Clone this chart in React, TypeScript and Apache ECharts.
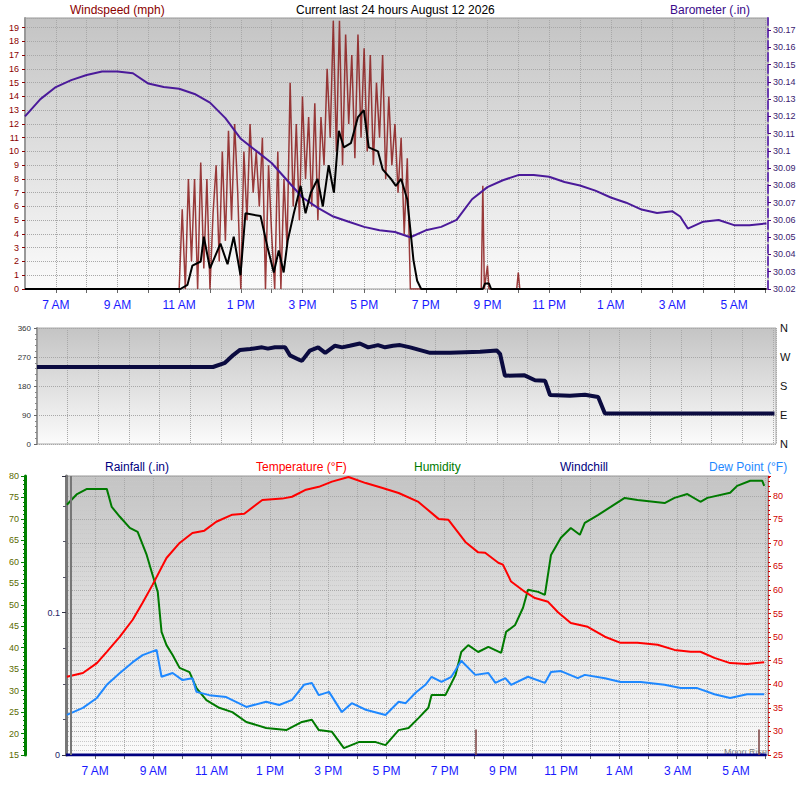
import React, { useEffect, useRef } from "react";
import * as echarts from "echarts";

// hours since midnight of the first day (6 = 6 AM, 30 = 6 AM next day)
const baroHours = [6, 6.5, 7, 7.5, 8, 8.5, 9, 9.5, 10, 10.5, 11, 11.5, 12, 12.5, 13, 13.5, 14, 14.5, 15, 15.5, 16, 16.5, 17, 17.5, 18, 18.5, 19, 19.5, 20, 20.5, 21, 21.5, 22, 22.5, 23, 23.5, 24, 24.5, 25, 25.5, 26, 26.5, 27, 27.25, 27.5, 28, 28.5, 29, 29.5, 30.05];
const baroValues = [30.12, 30.13, 30.137, 30.141, 30.144, 30.146, 30.146, 30.145, 30.139, 30.137, 30.136, 30.133, 30.128, 30.119, 30.107, 30.1, 30.093, 30.083, 30.073, 30.067, 30.062, 30.059, 30.056, 30.054, 30.053, 30.05, 30.054, 30.056, 30.06, 30.072, 30.079, 30.083, 30.086, 30.086, 30.085, 30.082, 30.08, 30.077, 30.073, 30.07, 30.066, 30.064, 30.065, 30.062, 30.055, 30.059, 30.06, 30.057, 30.057, 30.058];

const windHours = [6, 11.04, 11.27, 11.43, 11.7, 11.8, 12.0, 12.34, 12.57, 12.77, 12.99, 13.15, 13.64, 13.87, 14.07, 14.23, 14.39, 14.52, 14.72, 14.94, 15.1, 15.27, 15.49, 15.66, 15.85, 16.02, 16.18, 16.34, 16.57, 16.8, 16.99, 17.15, 17.45, 17.6, 17.87, 18.03, 18.2, 18.4, 18.5, 18.6, 18.72, 18.85, 20.85, 20.92, 21.05, 21.12, 30.05];
const windValues = [0, 0, 0.3, 1.7, 2, 3.8, 1.5, 3.3, 1.8, 3.8, 1.0, 5.5, 5.3, 3.0, 1.2, 2.8, 1.2, 3.5, 5.5, 7.5, 5.5, 7.0, 8.0, 6.0, 9.0, 7.0, 11.5, 10.3, 10.6, 12.5, 13.0, 10.3, 10.0, 8.7, 8.0, 7.5, 8.0, 6.5, 4.3, 2.1, 0.6, 0, 0, 0.4, 0.4, 0, 0];

const gustStart = 11.0;
const gustStep = 0.1;
const gustValues = [0, 5.8, 0, 8, 2, 8, 0, 9.2, 1.5, 8, 0, 5.5, 9, 2, 10, 3.5, 11.5, 5, 12, 7, 0, 10, 5, 12, 7, 10, 6, 11, 0, 9, 4, 0, 10, 0, 8, 3, 15, 6, 12, 5, 14, 8, 12.5, 6, 13.5, 5, 12.5, 9, 16, 11, 19.5, 10, 19.5, 9, 18.5, 12, 17, 9.5, 18.5, 11, 17.5, 10, 17, 9, 15, 11, 17, 8, 14, 9, 12, 7, 11, 4, 9.5, 0];
const gustExtra: [number, number][] = [[6, 0], [10.95, 0], [18.6, 0], [20.8, 0], [20.85, 7.5], [20.9, 0], [21.0, 1.7], [21.05, 0], [21.95, 0], [22.0, 1.2], [22.05, 0], [30.05, 0]];

const dirHours = [6, 11.74, 12.13, 12.4, 12.62, 12.95, 13.34, 13.53, 13.76, 14.09, 14.25, 14.58, 14.64, 14.9, 15.17, 15.4, 15.72, 15.95, 16.2, 16.53, 16.8, 17.12, 17.35, 17.61, 17.84, 18.17, 18.82, 19.47, 20.45, 21.0, 21.1, 21.26, 21.9, 22.24, 22.57, 22.73, 23.38, 23.87, 24.3, 24.52, 30.05];
const dirValues = [239, 239, 252, 276, 292, 295, 300, 296, 300, 300, 275, 260, 258, 290, 300, 283, 305, 300, 305, 312, 300, 307, 300, 305, 307, 300, 283, 283, 286, 290, 280, 212, 213, 198, 196, 152, 150, 153, 146, 95, 95];

const tempHours = [6.03, 6.58, 7.06, 7.4, 7.85, 8.29, 8.63, 8.97, 9.45, 9.9, 10.34, 10.75, 11.16, 11.71, 12.12, 12.74, 13.42, 13.76, 14.24, 14.68, 15.13, 15.7, 16.29, 16.84, 17.42, 18.1, 18.79, 19.13, 19.71, 20.15, 20.39, 20.84, 21.0, 21.28, 21.76, 22.1, 22.55, 22.89, 23.33, 23.91, 24.5, 25.04, 25.62, 26.31, 26.89, 27.44, 27.78, 28.26, 28.8, 29.38, 29.97];
const tempValues = [41.6, 42.4, 44.5, 46.9, 50.1, 53.7, 57.3, 61.1, 66.8, 70.0, 72.1, 72.6, 74.5, 76.0, 76.2, 79.1, 79.4, 79.8, 81.3, 81.9, 83.0, 84.0, 82.7, 81.7, 80.6, 78.7, 75.1, 74.9, 70.2, 68.0, 67.9, 65.8, 65.4, 61.8, 59.6, 58.3, 57.5, 55.3, 53.0, 52.2, 50.1, 48.8, 48.8, 48.4, 47.3, 46.9, 46.9, 45.6, 44.5, 44.3, 44.7];

const humHours = [6.03, 6.38, 6.72, 7.4, 7.57, 7.85, 8.19, 8.46, 8.77, 8.97, 9.15, 9.28, 9.45, 9.66, 9.9, 10.24, 10.48, 10.82, 11.26, 11.71, 12.19, 12.87, 13.56, 14.1, 14.44, 14.68, 15.13, 15.54, 16.05, 16.63, 16.97, 17.42, 17.76, 18.1, 18.44, 18.55, 19.03, 19.37, 19.57, 19.81, 20.15, 20.5, 20.94, 21.11, 21.42, 21.69, 21.86, 22.21, 22.44, 22.65, 22.99, 23.33, 23.64, 23.81, 24.26, 24.7, 25.18, 25.62, 26.55, 26.89, 27.33, 27.78, 28.02, 28.8, 29.04, 29.49, 29.9, 29.97];
const humValues = [73.3, 75.8, 77.0, 77.0, 72.8, 70.5, 67.9, 67.0, 61.6, 57.0, 53.0, 43.7, 40.6, 38.3, 35.3, 34.3, 30.6, 27.8, 26.0, 25.0, 22.7, 21.3, 20.8, 22.7, 23.2, 20.8, 20.4, 16.6, 18.0, 18.0, 17.3, 20.8, 21.3, 23.6, 26.0, 29.0, 29.0, 33.6, 39.0, 40.6, 39.0, 40.2, 38.8, 43.7, 45.3, 49.3, 53.5, 53.0, 52.3, 61.6, 65.6, 67.9, 66.3, 69.1, 70.9, 72.8, 74.9, 74.4, 73.7, 74.9, 75.8, 74.0, 74.9, 76.1, 77.7, 78.9, 78.9, 77.7];

const dewHours = [6.03, 6.58, 7.06, 7.4, 7.85, 8.29, 8.63, 9.11, 9.28, 9.66, 10.0, 10.34, 10.48, 10.92, 11.5, 12.19, 12.87, 13.32, 13.76, 14.17, 14.44, 14.68, 15.03, 15.47, 15.81, 16.29, 16.97, 17.42, 17.66, 18.0, 18.34, 18.55, 18.89, 19.23, 19.57, 20.05, 20.5, 20.74, 21.08, 21.28, 21.86, 22.44, 22.65, 22.99, 23.57, 23.81, 24.5, 25.04, 25.73, 26.55, 27.1, 27.67, 28.26, 28.8, 29.38, 29.97];
const dewValues = [33.5, 35.0, 37.1, 39.9, 42.4, 44.7, 46.2, 47.3, 41.6, 42.4, 40.9, 41.3, 38.4, 37.7, 37.3, 35.2, 36.3, 35.6, 36.7, 39.9, 40.3, 37.7, 38.4, 34.1, 36.0, 34.6, 33.5, 36.3, 36.0, 38.2, 39.9, 41.6, 40.5, 41.6, 45.0, 42.0, 42.4, 40.3, 41.3, 39.9, 41.6, 40.3, 42.6, 42.8, 41.3, 42.0, 41.3, 40.5, 40.5, 39.9, 39.2, 39.2, 37.9, 37.1, 37.9, 37.9];

const rainHours = [6.0, 30.05];
const rainValues = [0, 0];
const eventHours = [20.05, 29.77];

const compass = ["N", "E", "S", "W", "N"];

const pair = (xs: number[], ys: number[]) => xs.map((x, i) => [x, ys[i]]);

const hourLabel = (v: number) => {
  const r = Math.round(v);
  if (Math.abs(v - r) > 0.01 || r % 2 !== 1) return "";
  const h = r % 24;
  const h12 = h % 12 === 0 ? 12 : h % 12;
  return h12 + (h < 12 ? " AM" : " PM");
};

const plotBg = new echarts.graphic.LinearGradient(0, 0, 0, 1, [
  { offset: 0, color: "#c4c4c4" },
  { offset: 1, color: "#fbfbfb" },
]);

const font = "Liberation Sans, Arial, sans-serif";
const dotted = { show: true, lineStyle: { color: "#a8a8a8", type: "dotted" as const, width: 1 } };

const App = () => {
  const chartRef = useRef<HTMLDivElement>(null);

  useEffect(() => {
    if (!chartRef.current) return;
    const chart = echarts.init(chartRef.current, null, { renderer: "svg" });

    const gustData = [
      ...gustExtra.slice(0, 2),
      ...gustValues.map((v, i) => [gustStart + i * gustStep, v]),
      ...gustExtra.slice(2),
    ];

    const xBase = (gi: number, labels: boolean) => ({
      type: "value",
      gridIndex: gi,
      min: 6,
      max: 30.1,
      interval: 1,
      axisLine: { show: false },
      axisTick: { show: labels, length: 4, lineStyle: { color: "#666" } },
      axisLabel: {
        show: labels,
        formatter: hourLabel,
        color: "#1a1aff",
        fontSize: 12,
        fontFamily: font,
        margin: 10,
        showMaxLabel: false,
        showMinLabel: false,
      },
      splitLine: dotted,
    });

    const option = {
      animation: false,
      backgroundColor: "#ffffff",
      textStyle: { fontFamily: font },
      grid: [
        { left: 25, right: 32, top: 18, height: 271, show: true, backgroundColor: plotBg, borderColor: "#999" },
        { left: 37, right: 24, top: 328, height: 116, show: true, backgroundColor: plotBg, borderColor: "#aaa" },
        { left: 66, right: 32, top: 476, height: 279, show: true, backgroundColor: plotBg, borderColor: "#999" },
      ],
      xAxis: [xBase(0, true), xBase(1, false), xBase(2, true)],
      yAxis: [
        {
          type: "value", gridIndex: 0, position: "left", min: 0, max: 19.7, interval: 1,
          axisLine: { show: true, lineStyle: { color: "#999", width: 2 } },
          axisTick: { show: true, length: 3, lineStyle: { color: "#8b0000" } },
          axisLabel: { color: "#8b0000", fontSize: 9, margin: 6, showMaxLabel: false },
          splitLine: dotted,
        },
        {
          type: "value", gridIndex: 0, position: "right", min: 30.02, max: 30.177, interval: 0.01,
          axisLine: { show: true, lineStyle: { color: "#6a3cb0", width: 2, type: "dashed" } },
          axisTick: { show: true, length: 3, lineStyle: { color: "#4b0082" } },
          axisLabel: {
            color: "#3a1a70", fontSize: 9, margin: 5, showMaxLabel: false,
            formatter: (v: number) => String(parseFloat(v.toFixed(2))),
          },
          splitLine: { show: false },
        },
        {
          type: "value", gridIndex: 1, position: "left", min: 0, max: 360, interval: 90,
          axisLine: { show: true, lineStyle: { color: "#999", width: 2 } },
          axisTick: { show: true, length: 3, lineStyle: { color: "#666" } },
          minorTick: { show: true, splitNumber: 5, length: 2, lineStyle: { color: "#888" } },
          axisLabel: { color: "#333", fontSize: 8, margin: 6 },
          splitLine: dotted,
        },
        {
          type: "value", gridIndex: 1, position: "right", min: 0, max: 360, interval: 90,
          axisLine: { show: false }, axisTick: { show: false },
          axisLabel: { color: "#111", fontSize: 11, margin: 4, formatter: (v: number) => compass[Math.round(v / 90)] },
          splitLine: { show: false },
        },
        {
          type: "value", gridIndex: 2, position: "left", min: 0, max: 0.196, interval: 0.1,
          axisLine: { show: true, lineStyle: { color: "#777", width: 3 } },
          axisTick: { show: true, length: 4, lineStyle: { color: "#334" } },
          minorTick: { show: true, splitNumber: 4, length: 3, lineStyle: { color: "#556" } },
          axisLabel: { color: "#222266", fontSize: 9, margin: 6, showMaxLabel: false },
          splitLine: { show: false },
        },
        {
          type: "value", gridIndex: 2, position: "left", min: 15, max: 80, interval: 5, offset: 41,
          axisLine: { show: true, lineStyle: { color: "#008000", width: 3 } },
          axisTick: { show: true, length: 4, lineStyle: { color: "#008000" } },
          minorTick: { show: true, splitNumber: 5, length: 2, lineStyle: { color: "#008000" } },
          axisLabel: { color: "#5a6a00", fontSize: 9, margin: 6 },
          splitLine: { show: false },
        },
        {
          type: "value", gridIndex: 2, position: "right", min: 25, max: 84.2, interval: 5,
          axisLine: { show: true, lineStyle: { color: "#c06060", width: 1 } },
          axisTick: { show: true, length: 3, lineStyle: { color: "#d00000" } },
          minorTick: { show: true, splitNumber: 5, length: 2, lineStyle: { color: "#d00000" } },
          axisLabel: { color: "#d00000", fontSize: 9, margin: 5, showMaxLabel: false },
          splitLine: dotted,
          minorSplitLine: { show: true, lineStyle: { color: "#c8c8c8", type: "dotted" } },
        },
      ],
      series: [
        {
          name: "Gust", type: "line", xAxisIndex: 0, yAxisIndex: 0, data: gustData,
          showSymbol: false, lineStyle: { color: "#8b1a1a", width: 1.5, opacity: 0.85 },
        },
        {
          name: "Barometer", type: "line", xAxisIndex: 0, yAxisIndex: 1, data: pair(baroHours, baroValues),
          showSymbol: false, lineStyle: { color: "#4b1a9a", width: 2 },
        },
        {
          name: "Windspeed", type: "line", xAxisIndex: 0, yAxisIndex: 0, data: pair(windHours, windValues),
          showSymbol: false, lineStyle: { color: "#000000", width: 2 },
        },
        {
          name: "Direction", type: "line", xAxisIndex: 1, yAxisIndex: 2, data: pair(dirHours, dirValues),
          showSymbol: false, lineStyle: { color: "#0b0b40", width: 4 },
        },
        {
          name: "Rainfall", type: "line", xAxisIndex: 2, yAxisIndex: 4, data: pair(rainHours, rainValues),
          showSymbol: false, lineStyle: { color: "#000080", width: 3 },
          markLine: {
            symbol: "none", silent: true, label: { show: false },
            data: [
              { xAxis: 6.15, lineStyle: { color: "#777", width: 2, type: "solid" } },
              ...eventHours.map((h) => [
                { coord: [h, 0], lineStyle: { color: "#7a4040", width: 1.5, type: "solid" } },
                { coord: [h, 0.018] },
              ]),
            ],
          },
        },
        {
          name: "Humidity", type: "line", xAxisIndex: 2, yAxisIndex: 5, data: pair(humHours, humValues),
          showSymbol: false, lineStyle: { color: "#007a00", width: 2 },
        },
        {
          name: "Dew Point", type: "line", xAxisIndex: 2, yAxisIndex: 6, data: pair(dewHours, dewValues),
          showSymbol: false, lineStyle: { color: "#1e88ff", width: 2 },
        },
        {
          name: "Temperature", type: "line", xAxisIndex: 2, yAxisIndex: 6, data: pair(tempHours, tempValues),
          showSymbol: false, lineStyle: { color: "#ff0000", width: 2 },
        },
      ],
      graphic: [
        { type: "text", left: 70, top: 4, style: { text: "Windspeed (mph)", fill: "#8b0000", font: `12px ${font}` } },
        { type: "text", left: 296, top: 4, style: { text: "Current last 24 hours August 12 2026", fill: "#000", font: `12px ${font}` } },
        { type: "text", left: 670, top: 4, style: { text: "Barometer (.in)", fill: "#3a0a8a", font: `12px ${font}` } },
        { type: "text", left: 105, top: 461, style: { text: "Rainfall (.in)", fill: "#000080", font: `12px ${font}` } },
        { type: "text", left: 256, top: 461, style: { text: "Temperature (°F)", fill: "#ff0000", font: `12px ${font}` } },
        { type: "text", left: 414, top: 461, style: { text: "Humidity", fill: "#007a00", font: `12px ${font}` } },
        { type: "text", left: 560, top: 461, style: { text: "Windchill", fill: "#000080", font: `12px ${font}` } },
        { type: "text", left: 709, top: 461, style: { text: "Dew Point (°F)", fill: "#1e88ff", font: `12px ${font}` } },
        { type: "text", left: 724, top: 747, style: { text: "Moon Rise", fill: "#777", font: `9px ${font}` } },
      ],
    };

    chart.setOption(option);
    return () => chart.dispose();
  }, []);

  return (
    <div
      ref={chartRef}
      style={{ position: "absolute", left: 0, top: 0, width: 800, height: 799 }}
    />
  );
};

export default App;
